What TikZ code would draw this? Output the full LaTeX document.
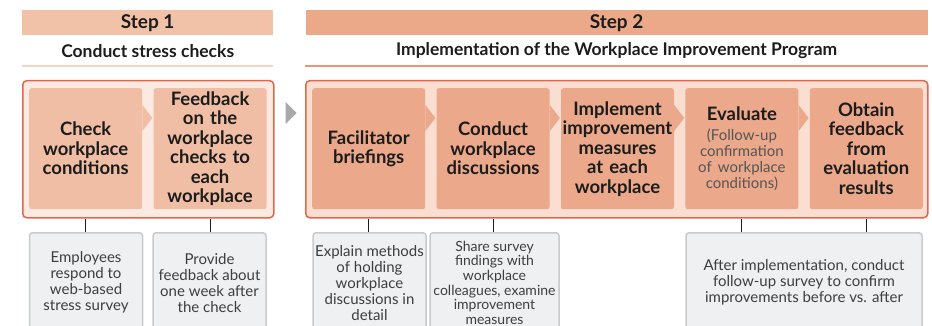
\documentclass[tikz,border=0pt]{standalone}
\usepackage{fontspec}
\setmainfont{Lato}
\usetikzlibrary{positioning}

\definecolor{headone}{HTML}{F2C2A8}
\definecolor{headtwo}{HTML}{ECA98A}
\definecolor{frameline}{HTML}{E2674A}
\definecolor{frameonefill}{HTML}{FBEAE2}
\definecolor{frametwofill}{HTML}{F9DED1}
\definecolor{taskone}{HTML}{F0BEA4}
\definecolor{tasktwo}{HTML}{EBA88A}
\definecolor{noteline}{HTML}{C9CACC}
\definecolor{notefill}{HTML}{EFF0F2}
\definecolor{pointer}{HTML}{A7A9AB}
\definecolor{ink}{HTML}{1C1C1C}

\newcommand\evalnote[1]{{\fontsize{15}{16}\selectfont\mdseries\color{ink!75}#1}}

\begin{document}
\begin{tikzpicture}[x=1pt,y=-1pt,
  header/.style={minimum height=25pt,inner sep=0pt,text=ink,
    font=\fontsize{19}{22}\selectfont\bfseries},
  subtitle/.style={minimum height=30pt,inner sep=0pt,text=ink,
    font=\fontsize{17.5}{20}\selectfont\bfseries},
  frame/.style={rounded corners=4pt,draw=frameline,line width=1.5pt,
    minimum height=137pt,inner sep=0pt},
  task/.style={rounded corners=2.5pt,minimum width=113pt,minimum height=121pt,
    text width=110pt,align=center,inner sep=0pt,text=ink,
    font=\fontsize{18.5}{19.5}\selectfont\bfseries},
  note/.style={rounded corners=3pt,draw=noteline,fill=notefill,line width=1.5pt,
    minimum height=100pt,align=center,inner sep=0pt,text=ink!85,
    font=\fontsize{15}{16}\selectfont},
  link/.style={draw=ink,line width=1pt}
]
\useasboundingbox (0,0) rectangle (932,326);

% step headings
\node[header,fill=headone,minimum width=251pt,anchor=north west] (head1) at (22,10) {Step 1};
\node[header,fill=headtwo,minimum width=622pt,right=32pt of head1] (head2) {Step 2};
\node[subtitle,minimum width=251pt,below=0pt of head1] (sub1) {Conduct stress checks};
\node[subtitle,minimum width=622pt,below=0pt of head2] (sub2) {Implementation of the Workplace Improvement Program};
\draw[headone!70,line width=1.5pt] (sub1.south west) -- (sub1.south east);
\draw[frameline!70,line width=1.5pt] (sub2.south west) -- (sub2.south east);

% frames
\node[frame,fill=frameonefill,minimum width=251pt,anchor=north west] (frame1) at (22,80) {};
\node[frame,fill=frametwofill,minimum width=622pt,anchor=north west] (frame2) at (305,80) {};
\fill[pointer] (frame1.north east) ++(11,22) -- ++(11,11) -- ++(-11,11) -- cycle;

% step 1 tasks
\node[task,fill=taskone,anchor=north west] (check) at (29,88) {Check\\workplace\\conditions};
\node[task,fill=taskone,right=11pt of check] (feedback) {Feedback\\on the\\workplace\\checks to\\each\\workplace};
\fill[taskone] (check.north east) ++(0,17) -- ++(10,13) -- ++(-10,13) -- cycle;

% step 2 tasks
\node[task,fill=tasktwo,anchor=north west] (brief) at (312,88) {Facilitator\\briefings};
\node[task,fill=tasktwo,right=11pt of brief] (discuss) {Conduct\\workplace\\discussions};
\node[task,fill=tasktwo,right=11pt of discuss] (implement) {Implement\\improvement\\measures\\at each\\workplace};
\node[task,fill=tasktwo,right=11pt of implement] (evaluate) {Evaluate\\[0pt]%
  \evalnote{(Follow-up}\\[-3.5pt]\evalnote{confirmation}\\[-3.5pt]\evalnote{of workplace}\\[-3.5pt]\evalnote{conditions)}\\[4pt]};
\node[task,fill=tasktwo,right=11pt of evaluate] (obtain) {Obtain\\feedback\\from\\evaluation\\results};
\foreach \n in {brief,discuss,implement,evaluate}
  \fill[tasktwo] (\n.north east) ++(0,17) -- ++(10,13) -- ++(-10,13) -- cycle;

% notes
\begin{scope}
\clip (0,0) rectangle (932,326);
\node[note,minimum width=113pt,anchor=north] (survey) at (86,232) {Employees\\respond to\\web-based\\stress survey};
\node[note,minimum width=113pt,anchor=north] (reply) at (209.5,232) {Provide\\feedback about\\one week after\\the check};
\node[note,minimum width=113pt,anchor=north] (explain) at (369.5,232) {Explain methods\\of holding\\workplace\\discussions in\\detail};
\node[note,minimum width=129pt,anchor=north,font=\fontsize{14}{14.6}\selectfont] (share) at (494.5,232) {Share survey\\findings with\\workplace\\colleagues, examine\\improvement\\measures};
\node[note,minimum width=236pt,anchor=north] (after) at (804,232) {After implementation, conduct\\follow-up survey to confirm\\improvements before vs. after};
\end{scope}

% connectors
\draw[link] (check |- frame1.south) -- (check |- survey.north);
\draw[link] (feedback |- frame1.south) -- (feedback |- reply.north);
\draw[link] (brief |- frame2.south) -- (brief |- explain.north);
\draw[link] (discuss |- frame2.south) -- (discuss |- share.north);
\draw[link] (evaluate |- frame2.south) -- (evaluate |- after.north);
\draw[link] (obtain |- frame2.south) -- (obtain |- after.north);
\end{tikzpicture}
\end{document}
